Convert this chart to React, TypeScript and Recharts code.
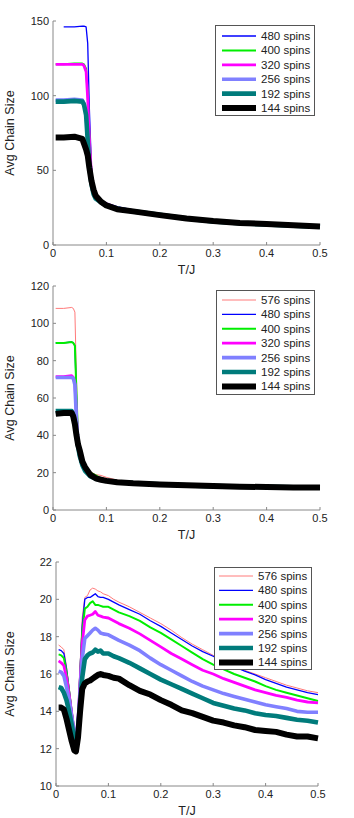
import React from "react";
import { LineChart, Line, XAxis, YAxis, Legend } from "recharts";

// T/J sample points, one list per panel (denser around the transition)
const tTop = [0.005, 0.02, 0.04, 0.055, 0.058, 0.062, 0.065, 0.068, 0.072, 0.076, 0.08, 0.09, 0.1, 0.12, 0.15, 0.2, 0.25, 0.3, 0.35, 0.4, 0.45, 0.5];
const tMid = [0.005, 0.02, 0.035, 0.038, 0.041, 0.044, 0.047, 0.05, 0.055, 0.06, 0.07, 0.08, 0.09, 0.1, 0.12, 0.15, 0.2, 0.25, 0.3, 0.35, 0.4, 0.45, 0.5];
const tBot = [0.005, 0.01, 0.015, 0.02, 0.025, 0.03, 0.035, 0.038, 0.042, 0.046, 0.05, 0.055, 0.06, 0.065, 0.07, 0.075, 0.08, 0.085, 0.09, 0.1, 0.11, 0.12, 0.14, 0.16, 0.18, 0.2, 0.22, 0.24, 0.26, 0.28, 0.3, 0.32, 0.34, 0.36, 0.38, 0.4, 0.42, 0.44, 0.46, 0.48, 0.5];

// panel 1
const top480 = [null, 146, 146, 146.5, 146.5, 146, 135, 92, 52, 38, 33, 30, 28, 25.5, 23, 20.5, 18, 16, 14.8, 14, 13.2, 12.5];
const top400 = [121, 121, 121.5, 121.5, 121, 118, 100, 75, 48, 37, 33, 29.5, 27.5, 25, 23, 20.5, 18, 16, 14.8, 14, 13.2, 12.5];
const top320 = [121, 121, 121, 121, 120, 116, 98, 72, 47, 37, 33, 29.5, 27.5, 25, 23, 20.5, 18, 16, 14.8, 14, 13.2, 12.5];
const top256 = [97, 97, 97.5, 97, 95, 88, 72, 55, 42, 35, 32, 29, 27, 25, 22.8, 20.3, 17.8, 15.9, 14.7, 13.9, 13.1, 12.4];
const top192 = [96, 96, 96.5, 96, 94, 87, 70, 53, 41, 34, 31, 28.5, 26.5, 24.5, 22.5, 20.2, 17.7, 15.8, 14.6, 13.8, 13, 12.3];
const top144 = [72, 72, 72.5, 71, 68, 64, 60, 52, 43, 37, 33, 29, 26.5, 24, 22.5, 20, 17.8, 16, 14.8, 14, 13.2, 12.4];

// panel 2
const mid576 = [108, 108, 108.5, 108, 106, 70, 40, 32, 26, 23, 20.5, 19, 18.5, 17.5, 16, 15, 14.2, 13.5, 13, 12.7, 12.5, 12.3, 12.2];
const mid480 = [89.5, 89.5, 90, 89.5, 88, 60, 38, 30, 25, 22, 19.8, 18, 17, 16.3, 15.5, 14.8, 14, 13.4, 13, 12.7, 12.5, 12.3, 12.2];
const mid400 = [89.5, 89.5, 90, 89.5, 88, 62, 38, 30, 25, 22, 20, 18.5, 17, 16.3, 15.5, 14.8, 14, 13.4, 13, 12.7, 12.5, 12.3, 12.2];
const mid320 = [71.5, 71.5, 72, 71, 68, 50, 36, 29, 24, 21, 18.5, 17.3, 16.5, 16, 15.2, 14.6, 13.9, 13.3, 12.9, 12.6, 12.4, 12.2, 12.1];
const mid256 = [71, 71, 71, 70.5, 67, 48, 35, 29, 24, 21, 18.3, 17.2, 16.4, 15.9, 15.1, 14.5, 13.8, 13.3, 12.9, 12.6, 12.4, 12.2, 12.1];
const mid192 = [53, 53, 53, 51, 47, 40, 34, 29, 24, 21, 18, 16.8, 16.2, 15.7, 15, 14.4, 13.8, 13.2, 12.8, 12.6, 12.4, 12.2, 12.1];
const mid144 = [51.5, 52, 52, 50, 46, 40, 35, 32, 26, 23, 18.8, 17, 16.2, 15.6, 14.9, 14.3, 13.7, 13.2, 12.8, 12.5, 12.3, 12.1, 12];

// panel 3
const bot576 = [17.55, 17.45, 17.3, 16.4, 15.3, 14.2, 13, 12.4, 14, 16.5, 19, 20.1, 20.2, 20.5, 20.6, 20.55, 20.45, 20.4, 20.3, 20.2, 20, 19.85, 19.6, 19.3, 19, 18.7, 18.35, 17.95, 17.6, 17.3, 17, 16.7, 16.45, 16.2, 16, 15.8, 15.6, 15.4, 15.25, 15.1, 15];
const bot480 = [17.3, 17.25, 17.1, 16.3, 15.2, 14.1, 13, 12.4, 13.9, 16.3, 18.6, 20, 20.1, 20.1, 20.2, 20.3, 20.15, 20.1, 20.1, 20, 19.85, 19.7, 19.45, 19.2, 18.85, 18.55, 18.2, 17.85, 17.5, 17.2, 16.95, 16.65, 16.4, 16.15, 15.95, 15.7, 15.5, 15.3, 15.15, 15, 14.9];
const bot400 = [17.05, 17, 16.85, 16.1, 15.1, 14, 13, 12.4, 13.7, 15.9, 18.2, 19.5, 19.6, 19.8, 19.9, 19.7, 19.7, 19.65, 19.6, 19.6, 19.45, 19.3, 19.1, 18.85, 18.5, 18.2, 17.85, 17.5, 17.15, 16.8, 16.5, 16.25, 16, 15.8, 15.6, 15.35, 15.15, 15, 14.85, 14.7, 14.55];
const bot320 = [16.7, 16.6, 16.45, 15.8, 14.9, 13.9, 12.9, 12.5, 13.6, 15.6, 17.6, 18.9, 19.1, 19.15, 19.2, 19.35, 19.15, 19.1, 19.05, 19, 18.85, 18.7, 18.45, 18.15, 17.8, 17.45, 17.1, 16.8, 16.5, 16.2, 16, 15.75, 15.55, 15.35, 15.15, 15, 14.85, 14.75, 14.6, 14.5, 14.45];
const bot256 = [16.15, 16.1, 15.9, 15.3, 14.6, 13.7, 12.8, 12.5, 13.4, 15, 16.8, 17.9, 18.05, 18.2, 18.35, 18.45, 18.35, 18.2, 18.15, 18.1, 17.95, 17.8, 17.55, 17.25, 16.85, 16.5, 16.2, 15.9, 15.6, 15.35, 15.15, 14.95, 14.8, 14.65, 14.5, 14.35, 14.25, 14.15, 14, 13.95, 13.95];
const bot192 = [15.3, 15.25, 15, 14.6, 14, 13.3, 12.5, 12.2, 12.9, 14.3, 15.8, 16.8, 17, 17.1, 17.15, 17.3, 17.2, 17.25, 17.1, 17.1, 16.95, 16.85, 16.6, 16.3, 16, 15.7, 15.45, 15.2, 14.95, 14.7, 14.45, 14.3, 14.15, 14.05, 13.9, 13.8, 13.75, 13.65, 13.55, 13.5, 13.4];
const bot144 = [14.2, 14.2, 14.1, 13.6, 13, 12.4, 11.9, 11.85, 12.6, 14, 15.2, 15.5, 15.6, 15.65, 15.75, 15.85, 15.95, 16, 15.95, 15.9, 15.8, 15.75, 15.4, 15.1, 14.9, 14.6, 14.35, 14.05, 13.9, 13.7, 13.5, 13.4, 13.25, 13.15, 13, 12.95, 12.9, 12.75, 12.65, 12.65, 12.55];

const xTicks = [0, 0.1, 0.2, 0.3, 0.4, 0.5];
const topTicks = [0, 50, 100, 150];
const midTicks = [0, 20, 40, 60, 80, 100, 120];
const botTicks = [10, 12, 14, 16, 18, 20, 22];

const STYLE: Record<string, { color: string; width: number }> = {
  "576": { color: "#ff7a7a", width: 1 },
  "480": { color: "#0000ff", width: 1.3 },
  "400": { color: "#00ee00", width: 2 },
  "320": { color: "#ff00ff", width: 2.8 },
  "256": { color: "#8080ff", width: 3.6 },
  "192": { color: "#007b7b", width: 4.6 },
  "144": { color: "#000000", width: 6 },
};

const FONT = "'Liberation Sans', Arial, sans-serif";

type Series = { n: string; values: (number | null)[] };

function buildRows(ts: number[], series: Series[]) {
  return ts.map((t, i) => {
    const row: Record<string, number | null> = { t };
    series.forEach((s) => (row["s" + s.n] = s.values[i]));
    return row;
  });
}

type LegendBox = { left: number; top: number; width: number; height: number; first: number; lineX: number; textX: number };

const LegendContent = ({ series, box }: { series: Series[]; box: LegendBox }) => (
  <svg width={box.width} height={box.height} style={{ display: "block" }}>
    <rect x={0.5} y={0.5} width={box.width - 1} height={box.height - 1} fill="#fff" stroke="#555" />
    {series.map((s, i) => {
      const y = box.first + i * 14.4;
      const st = STYLE[s.n];
      return (
        <g key={s.n}>
          <line x1={box.lineX} x2={box.lineX + 34} y1={y} y2={y} stroke={st.color} strokeWidth={st.width} />
          <text x={box.textX} y={y + 4} fontSize={11.5} fontFamily={FONT} fill="#222">
            {s.n} spins
          </text>
        </g>
      );
    })}
  </svg>
);

type PanelProps = {
  top: number;
  height: number;
  marginTop: number;
  marginRight: number;
  yWidth: number;
  ts: number[];
  series: Series[];
  yDomain: [number, number];
  yTicks: number[];
  box: LegendBox;
};

const Panel = ({ top, height, marginTop, marginRight, yWidth, ts, series, yDomain, yTicks, box }: PanelProps) => {
  const rows = buildRows(ts, series);
  return (
    <div style={{ position: "absolute", left: 0, top, width: 354, height }}>
      <LineChart width={354} height={height} data={rows} margin={{ top: marginTop, right: marginRight, left: 0, bottom: 0 }}>
        <XAxis
          type="number"
          dataKey="t"
          domain={[0, 0.5]}
          ticks={xTicks}
          tickFormatter={(v: number) => String(v)}
          height={34}
          stroke="#888"
          tickSize={-3}
          tickMargin={7}
          tick={{ fill: "#222", fontSize: 11, fontFamily: FONT }}
          label={{ value: "T/J", position: "insideBottom", offset: 5, fill: "#222", fontSize: 12.5, fontFamily: FONT }}
        />
        <YAxis
          type="number"
          domain={yDomain}
          ticks={yTicks}
          width={yWidth}
          stroke="#888"
          tickSize={-3}
          tickMargin={7}
          allowDataOverflow
          tick={{ fill: "#222", fontSize: 11, fontFamily: FONT }}
          label={{
            value: "Avg Chain Size",
            angle: -90,
            position: "insideLeft",
            offset: 10,
            fill: "#222",
            fontSize: 12.5,
            fontFamily: FONT,
            style: { textAnchor: "middle" },
          }}
        />
        <Legend
          layout="vertical"
          align="center"
          verticalAlign="middle"
          wrapperStyle={{ left: box.left, top: box.top, width: box.width, height: box.height }}
          content={() => <LegendContent series={series} box={box} />}
        />
        {series.map((s) => (
          <Line
            key={s.n}
            type="linear"
            dataKey={"s" + s.n}
            name={s.n + " spins"}
            stroke={STYLE[s.n].color}
            strokeWidth={STYLE[s.n].width}
            strokeLinejoin="round"
            dot={false}
            activeDot={false}
            isAnimationActive={false}
          />
        ))}
      </LineChart>
    </div>
  );
};

export default function App() {
  const s1: Series[] = [
    { n: "480", values: top480 },
    { n: "400", values: top400 },
    { n: "320", values: top320 },
    { n: "256", values: top256 },
    { n: "192", values: top192 },
    { n: "144", values: top144 },
  ];
  const s2: Series[] = [
    { n: "576", values: mid576 },
    { n: "480", values: mid480 },
    { n: "400", values: mid400 },
    { n: "320", values: mid320 },
    { n: "256", values: mid256 },
    { n: "192", values: mid192 },
    { n: "144", values: mid144 },
  ];
  const s3: Series[] = [
    { n: "576", values: bot576 },
    { n: "480", values: bot480 },
    { n: "400", values: bot400 },
    { n: "320", values: bot320 },
    { n: "256", values: bot256 },
    { n: "192", values: bot192 },
    { n: "144", values: bot144 },
  ];
  return (
    <div style={{ position: "absolute", left: 0, top: 0, width: 354, height: 818, background: "#fff", overflow: "hidden" }}>
      <Panel top={0} height={279} marginTop={21} marginRight={34} yWidth={53} ts={tTop} series={s1} yDomain={[0, 150]} yTicks={topTicks}
        box={{ left: 215, top: 25, width: 100, height: 91, first: 11, lineX: 7, textX: 46 }} />
      <Panel top={270} height={274} marginTop={16} marginRight={34} yWidth={53} ts={tMid} series={s2} yDomain={[0, 120]} yTicks={midTicks}
        box={{ left: 216, top: 20, width: 99, height: 105, first: 10, lineX: 6, textX: 45 }} />
      <Panel top={540} height={280} marginTop={22} marginRight={36} yWidth={56} ts={tBot} series={s3} yDomain={[10, 22]} yTicks={botTicks}
        box={{ left: 214, top: 27, width: 98, height: 103, first: 9, lineX: 5, textX: 44 }} />
    </div>
  );
}
